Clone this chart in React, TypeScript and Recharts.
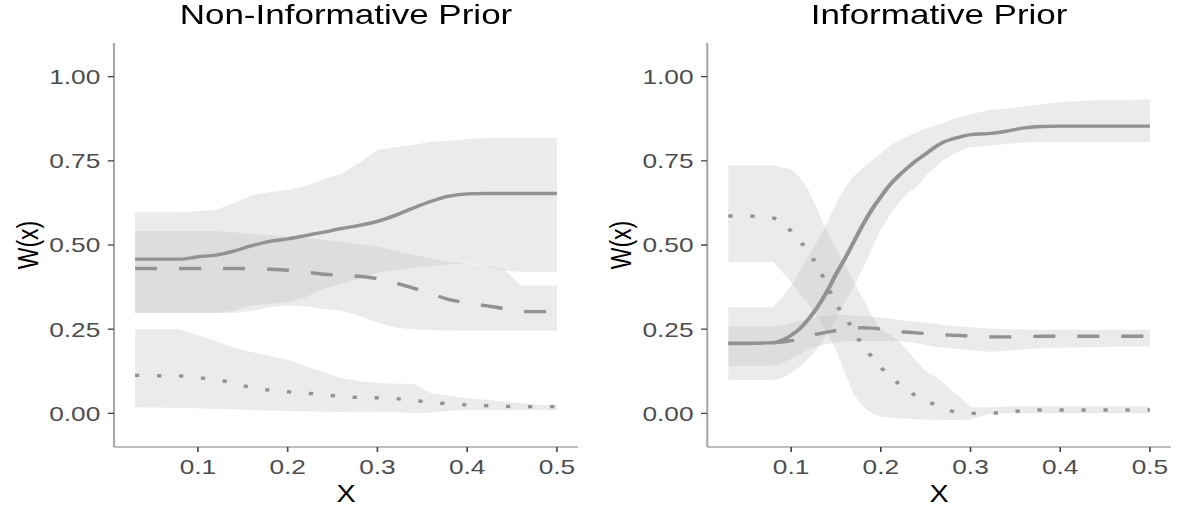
import React from 'react';
import { ComposedChart, Area, Line, XAxis, YAxis } from 'recharts';

const FONT = '"Liberation Sans", Arial, Helvetica, sans-serif';
const STRETCH = 1.25;
const H = 507;
const Y_AXIS_W = 60;
const X_AXIS_H = 60;
const X_DOMAIN: [number, number] = [0.0065, 0.5235];
const Y_DOMAIN: [number, number] = [-0.1, 1.1];
const X_TICKS = [0.1, 0.2, 0.3, 0.4, 0.5];
const Y_TICKS = [0, 0.25, 0.5, 0.75, 1];

const LINE_COLOR = '#929292';
const RIBBON_FILL = '#bebebe';

// ---------- Non-Informative Prior ----------
const xNonInf = [0.03, 0.05, 0.08, 0.10, 0.12, 0.14, 0.16, 0.18, 0.20, 0.22, 0.24, 0.26, 0.28, 0.30, 0.32, 0.34, 0.36, 0.38, 0.40, 0.42, 0.44, 0.46, 0.48, 0.50];
const nonInfSolid = [0.458, 0.458, 0.458, 0.465, 0.47, 0.482, 0.498, 0.511, 0.518, 0.528, 0.538, 0.549, 0.558, 0.57, 0.588, 0.61, 0.63, 0.645, 0.652, 0.653, 0.653, 0.653, 0.653, 0.653];
const nonInfSolidLow = [0.298, 0.298, 0.298, 0.298, 0.298, 0.305, 0.32, 0.325, 0.33, 0.345, 0.37, 0.385, 0.40, 0.418, 0.425, 0.432, 0.438, 0.442, 0.445, 0.44, 0.425, 0.42, 0.42, 0.42];
const nonInfSolidHigh = [0.597, 0.597, 0.597, 0.60, 0.604, 0.625, 0.648, 0.657, 0.663, 0.675, 0.695, 0.712, 0.745, 0.782, 0.79, 0.798, 0.806, 0.81, 0.815, 0.818, 0.818, 0.818, 0.818, 0.818];
const nonInfDashed = [0.43, 0.43, 0.43, 0.43, 0.43, 0.43, 0.43, 0.428, 0.425, 0.42, 0.413, 0.41, 0.407, 0.40, 0.388, 0.372, 0.355, 0.338, 0.328, 0.32, 0.312, 0.303, 0.302, 0.302];
const nonInfDashedLow = [0.298, 0.298, 0.298, 0.298, 0.298, 0.298, 0.305, 0.315, 0.32, 0.318, 0.31, 0.305, 0.29, 0.27, 0.255, 0.25, 0.247, 0.246, 0.245, 0.245, 0.245, 0.245, 0.245, 0.245];
const nonInfDashedHigh = [0.541, 0.541, 0.541, 0.541, 0.541, 0.538, 0.533, 0.529, 0.525, 0.52, 0.515, 0.51, 0.503, 0.495, 0.483, 0.47, 0.46, 0.45, 0.443, 0.44, 0.43, 0.38, 0.38, 0.38];
const nonInfDotted = [0.113, 0.112, 0.111, 0.106, 0.10, 0.09, 0.076, 0.069, 0.064, 0.06, 0.055, 0.05, 0.047, 0.046, 0.044, 0.038, 0.033, 0.028, 0.025, 0.023, 0.021, 0.02, 0.02, 0.02];
const nonInfDottedLow = [0.018, 0.017, 0.016, 0.015, 0.013, 0.012, 0.01, 0.008, 0.007, 0.006, 0.005, 0.004, 0.003, 0.003, 0.005, 0.0, 0.002, 0.008, 0.01, 0.01, 0.01, 0.01, 0.01, 0.01];
const nonInfDottedHigh = [0.25, 0.25, 0.25, 0.232, 0.215, 0.195, 0.182, 0.17, 0.16, 0.14, 0.122, 0.105, 0.095, 0.09, 0.088, 0.088, 0.06, 0.052, 0.045, 0.04, 0.035, 0.03, 0.025, 0.025];

// ---------- Informative Prior ----------
const xInf = [0.03, 0.05, 0.08, 0.09, 0.10, 0.11, 0.12, 0.13, 0.14, 0.15, 0.16, 0.17, 0.18, 0.19, 0.20, 0.21, 0.22, 0.23, 0.24, 0.25, 0.26, 0.27, 0.28, 0.29, 0.30, 0.32, 0.34, 0.36, 0.38, 0.40, 0.44, 0.50];
const infSolid = [0.208, 0.208, 0.21, 0.217, 0.232, 0.252, 0.282, 0.318, 0.362, 0.413, 0.46, 0.51, 0.56, 0.605, 0.643, 0.678, 0.706, 0.73, 0.752, 0.77, 0.79, 0.806, 0.815, 0.822, 0.828, 0.831, 0.838, 0.848, 0.852, 0.853, 0.853, 0.853];
const infSolidLow = [0.099, 0.099, 0.099, 0.105, 0.12, 0.14, 0.165, 0.195, 0.235, 0.28, 0.33, 0.375, 0.43, 0.49, 0.545, 0.59, 0.625, 0.655, 0.672, 0.705, 0.73, 0.752, 0.768, 0.782, 0.79, 0.795, 0.80, 0.805, 0.806, 0.806, 0.806, 0.806];
const infSolidHigh = [0.315, 0.315, 0.315, 0.345, 0.38, 0.425, 0.47, 0.515, 0.565, 0.62, 0.67, 0.705, 0.73, 0.75, 0.772, 0.795, 0.81, 0.822, 0.835, 0.845, 0.855, 0.862, 0.875, 0.882, 0.888, 0.90, 0.905, 0.912, 0.918, 0.925, 0.93, 0.932];
const infDashed = [0.207, 0.207, 0.209, 0.212, 0.216, 0.222, 0.23, 0.236, 0.241, 0.246, 0.25, 0.253, 0.254, 0.253, 0.25, 0.246, 0.243, 0.241, 0.239, 0.237, 0.235, 0.233, 0.232, 0.231, 0.229, 0.227, 0.227, 0.228, 0.229, 0.229, 0.229, 0.229];
const infDashedLow = [0.141, 0.141, 0.141, 0.15, 0.162, 0.175, 0.19, 0.2, 0.206, 0.21, 0.213, 0.215, 0.215, 0.215, 0.215, 0.215, 0.214, 0.212, 0.208, 0.203, 0.198, 0.195, 0.193, 0.19, 0.187, 0.183, 0.185, 0.19, 0.193, 0.195, 0.197, 0.198];
const infDashedHigh = [0.259, 0.259, 0.259, 0.262, 0.268, 0.275, 0.282, 0.287, 0.29, 0.292, 0.292, 0.291, 0.289, 0.287, 0.285, 0.282, 0.278, 0.274, 0.272, 0.27, 0.266, 0.262, 0.26, 0.258, 0.256, 0.252, 0.25, 0.249, 0.248, 0.248, 0.248, 0.248];
const infDotted = [0.586, 0.586, 0.58, 0.568, 0.54, 0.511, 0.476, 0.435, 0.38, 0.325, 0.287, 0.245, 0.199, 0.168, 0.136, 0.112, 0.088, 0.069, 0.05, 0.038, 0.026, 0.014, 0.006, 0.002, 0.0, 0.0, 0.004, 0.008, 0.01, 0.01, 0.01, 0.01];
const infDottedLow = [0.45, 0.45, 0.45, 0.42, 0.39, 0.355, 0.32, 0.28, 0.24, 0.19, 0.12, 0.055, 0.02, 0.0, -0.01, -0.013, -0.015, -0.016, -0.018, -0.018, -0.019, -0.02, -0.02, -0.02, -0.018, -0.002, 0.0, 0.0, 0.0, 0.0, 0.0, 0.0];
const infDottedHigh = [0.737, 0.737, 0.737, 0.73, 0.725, 0.70, 0.66, 0.60, 0.54, 0.49, 0.44, 0.39, 0.34, 0.29, 0.25, 0.235, 0.215, 0.185, 0.155, 0.125, 0.11, 0.09, 0.065, 0.045, 0.018, 0.018, 0.02, 0.02, 0.02, 0.02, 0.02, 0.02];

const TITLES = ['Non-Informative Prior', 'Informative Prior'];
const Y_LABEL = 'W(x)';
const X_LABEL = 'X';

type Row = {
  x: number;
  solid: number;
  dashed: number;
  dotted: number;
  solidBand: [number, number];
  dashedBand: [number, number];
  dottedBand: [number, number];
};

function buildRows(
  xs: number[],
  solid: number[], solidLow: number[], solidHigh: number[],
  dashed: number[], dashedLow: number[], dashedHigh: number[],
  dotted: number[], dottedLow: number[], dottedHigh: number[]
): Row[] {
  return xs.map((x, i) => ({
    x,
    solid: solid[i],
    dashed: dashed[i],
    dotted: dotted[i],
    solidBand: [solidLow[i], solidHigh[i]],
    dashedBand: [dashedLow[i], dashedHigh[i]],
    dottedBand: [dottedLow[i], dottedHigh[i]],
  }));
}

const nonInfRows = buildRows(
  xNonInf,
  nonInfSolid, nonInfSolidLow, nonInfSolidHigh,
  nonInfDashed, nonInfDashedLow, nonInfDashedHigh,
  nonInfDotted, nonInfDottedLow, nonInfDottedHigh
);
const infRows = buildRows(
  xInf,
  infSolid, infSolidLow, infSolidHigh,
  infDashed, infDashedLow, infDashedHigh,
  infDotted, infDottedLow, infDottedHigh
);

type PanelProps = {
  title: string;
  rows: Row[];
  left: number;
  width: number;
  marginLeft: number;
  marginRight: number;
};

function Panel({ title, rows, left, width, marginLeft, marginRight }: PanelProps) {
  const plotLeft = marginLeft + Y_AXIS_W;
  const plotWidth = width - plotLeft - marginRight;
  const tickStyle = { fill: '#4d4d4d', fontSize: 21, fontFamily: FONT };
  const axisLineStyle = { stroke: '#a8a8a8', strokeWidth: 1.7 };
  const tickLineStyle = { stroke: '#444444', strokeWidth: 1.3 };
  return (
    <div style={{ position: 'absolute', left, top: 0, width, height: H }}>
      <ComposedChart
        width={width}
        height={H}
        data={rows}
        margin={{ top: 43, right: marginRight, bottom: 0, left: marginLeft }}
      >
        <XAxis
          type="number"
          dataKey="x"
          domain={X_DOMAIN}
          ticks={X_TICKS}
          interval={0}
          allowDataOverflow
          height={X_AXIS_H}
          tickFormatter={(v: number) => String(v)}
          tick={tickStyle}
          tickSize={5}
          tickMargin={7}
          axisLine={axisLineStyle}
          tickLine={tickLineStyle}
          label={{
            value: X_LABEL,
            position: 'insideBottom',
            offset: 5,
            fill: '#000000',
            fontSize: 23,
            fontFamily: FONT,
            style: { textAnchor: 'middle', fontSize: 23, fontFamily: FONT, fill: '#000000' },
          }}
        />
        <YAxis
          type="number"
          domain={Y_DOMAIN}
          ticks={Y_TICKS}
          interval={0}
          allowDataOverflow
          width={Y_AXIS_W}
          tickFormatter={(v: number) => v.toFixed(2)}
          tick={tickStyle}
          tickSize={5}
          tickMargin={6}
          axisLine={axisLineStyle}
          tickLine={tickLineStyle}
          label={{
            value: Y_LABEL,
            angle: -90,
            position: 'insideLeft',
            offset: -9,
            fill: '#000000',
            fontSize: 23,
            fontFamily: FONT,
            style: { textAnchor: 'middle', fontSize: 23, fontFamily: FONT, fill: '#000000' },
          }}
        />
        <Area dataKey="solidBand" type="linear" stroke="none" fill={RIBBON_FILL} fillOpacity={0.3} isAnimationActive={false} activeDot={false} />
        <Area dataKey="dashedBand" type="linear" stroke="none" fill={RIBBON_FILL} fillOpacity={0.3} isAnimationActive={false} activeDot={false} />
        <Area dataKey="dottedBand" type="linear" stroke="none" fill={RIBBON_FILL} fillOpacity={0.3} isAnimationActive={false} activeDot={false} />
        <Line dataKey="solid" type="monotone" stroke={LINE_COLOR} strokeWidth={3.4} dot={false} activeDot={false} isAnimationActive={false} />
        <Line dataKey="dashed" type="monotone" stroke={LINE_COLOR} strokeWidth={3.4} strokeDasharray="17.6 17.6" dot={false} activeDot={false} isAnimationActive={false} />
        <Line dataKey="dotted" type="monotone" stroke={LINE_COLOR} strokeWidth={3.4} strokeDasharray="3.4 14.2" dot={false} activeDot={false} isAnimationActive={false} />
      </ComposedChart>
      <div
        style={{
          position: 'absolute',
          left: plotLeft,
          width: plotWidth,
          top: 1,
          fontSize: 28,
          lineHeight: '28px',
          textAlign: 'center',
          color: '#000000',
          fontFamily: FONT,
          whiteSpace: 'nowrap',
        }}
      >
        {title}
      </div>
    </div>
  );
}

export default function App() {
  const innerWidth = 1177 / STRETCH;
  return (
    <div
      style={{
        position: 'absolute',
        left: 0,
        top: 0,
        width: innerWidth,
        height: H,
        transform: `scaleX(${STRETCH})`,
        transformOrigin: '0 0',
        background: '#ffffff',
      }}
    >
      <Panel title={TITLES[0]} rows={nonInfRows} left={0} width={470} marginLeft={31.2} marginRight={7.6} />
      <Panel title={TITLES[1]} rows={infRows} left={470} width={471.6} marginLeft={35.8} marginRight={4.8} />
    </div>
  );
}
